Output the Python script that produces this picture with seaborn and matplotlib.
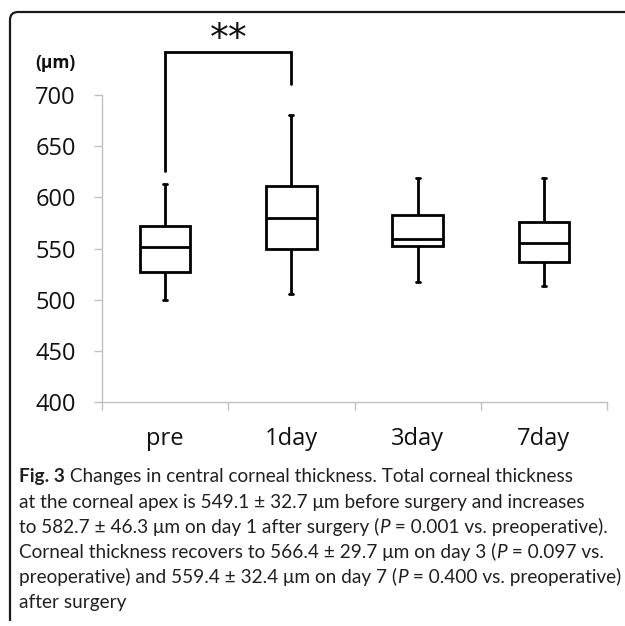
import numpy as np
import pandas as pd
import matplotlib
matplotlib.use("Agg")
import matplotlib.pyplot as plt
import seaborn as sns
from matplotlib.path import Path
from matplotlib.patches import PathPatch

# ---- data (five-number summaries) ----
groups = ["pre", "1day", "3day", "7day"]
pre_vals = [500, 527, 551, 572, 613]
day1_vals = [506, 550, 580, 611, 680]
day3_vals = [517, 552, 559, 583, 619]
day7_vals = [513, 537, 555, 576, 619]
y_ticks = [400, 450, 500, 550, 600, 650, 700]
unit_label = "(μm)"
sig_label = "**"
sig_pair = ["pre", "1day"]
sig_levels = [626, 742, 711]   # left end, top, right end

caption_lines = [
    [("Fig. 3", "bold"), (" Changes in central corneal thickness. Total corneal thickness", "normal")],
    [("at the corneal apex is 549.1 ± 32.7 μm before surgery and increases", "normal")],
    [("to 582.7 ± 46.3 μm on day 1 after surgery (", "normal"), ("P", "italic"),
     (" = 0.001 vs. preoperative).", "normal")],
    [("Corneal thickness recovers to 566.4 ± 29.7 μm on day 3 (", "normal"), ("P", "italic"),
     (" = 0.097 vs.", "normal")],
    [("preoperative) and 559.4 ± 32.4 μm on day 7 (", "normal"), ("P", "italic"),
     (" = 0.400 vs. preoperative)", "normal")],
    [("after surgery", "normal")],
]

df = pd.DataFrame({
    "time": np.repeat(groups, 5),
    "thickness": pre_vals + day1_vals + day3_vals + day7_vals,
})

sns.set_style("ticks")
plt.rcParams["font.family"] = ["Open Sans", "DejaVu Sans"]

W, H = 625, 626
fig = plt.figure(figsize=(W / 100, H / 100), dpi=100)
fig.patch.set_facecolor("white")

def fx(px):
    return px / W

def fy(py):
    return 1 - py / H

ax = fig.add_axes([fx(102), fy(402), fx(607) - fx(102), fy(95) - fy(402)])

sns.boxplot(data=df, x="time", y="thickness", order=groups, whis=(0, 100),
            width=0.4, color="white", linecolor="black", linewidth=2.0,
            fliersize=0, ax=ax)

# shrink whisker caps to tiny ticks
extremes = {min(v) for v in (pre_vals, day1_vals, day3_vals, day7_vals)} | \
           {max(v) for v in (pre_vals, day1_vals, day3_vals, day7_vals)}
for ln in ax.lines:
    xd = np.asarray(ln.get_xdata(), dtype=float)
    yd = np.asarray(ln.get_ydata(), dtype=float)
    if len(xd) == 2 and yd[0] == yd[1] and yd[0] in extremes and xd[0] != xd[1]:
        c = xd.mean()
        ln.set_xdata([c - 0.016, c + 0.016])

ax.set_ylim(400, 700)
ax.set_xlim(-0.5, 3.5)
ax.set_yticks(y_ticks)
ax.set_yticklabels([str(t) for t in y_ticks])
ax.set_xlabel("")
ax.set_ylabel("")
ax.set_facecolor("white")
for s in ["top", "right"]:
    ax.spines[s].set_visible(False)
for s in ["left", "bottom"]:
    ax.spines[s].set_color("#c0c0c0")
    ax.spines[s].set_linewidth(1.0)

ax.tick_params(axis="y", length=5.8, width=1.0, color="#c0c0c0", pad=13,
               labelsize=17, labelcolor="#111111")
ax.tick_params(axis="x", which="major", length=0, pad=18, labelsize=17,
               labelcolor="#111111")
ax.set_xticks([-0.5, 0.5, 1.5, 2.5, 3.5], minor=True)
ax.tick_params(axis="x", which="minor", length=5.8, width=1.0, color="#c0c0c0",
               direction="out")

# significance bracket
x0 = groups.index(sig_pair[0])
x1 = groups.index(sig_pair[1])
ax.plot([x0, x0, x1, x1], [sig_levels[0], sig_levels[1], sig_levels[1], sig_levels[2]],
        color="black", lw=2.0, clip_on=False, solid_joinstyle="miter")
ax.text((x0 + x1) / 2, 754, sig_label, ha="center", va="center", fontsize=27,
        family=["DejaVu Sans"], color="#111111", clip_on=False)

# unit label
fig.text(fx(76), fy(63), unit_label, ha="right", va="center", fontsize=12.5,
         fontweight="bold", color="#111111")

# frame with rounded top-left corner
r = 8
verts = [(fx(10), fy(621)), (fx(10), fy(12 + r)), (fx(10), fy(12)), (fx(10 + r), fy(12)),
         (fx(640), fy(12))]
codes = [Path.MOVETO, Path.LINETO, Path.CURVE3, Path.CURVE3, Path.LINETO]
fig.add_artist(PathPatch(Path(verts, codes), transform=fig.transFigure, fill=False,
                         lw=1.6, edgecolor="#1a1a1a", clip_on=False))

# caption
cap_family = ["Lato", "DejaVu Sans"]
renderer = fig.canvas.get_renderer()


def seg_style(style, size):
    kw = dict(fontsize=size, family=cap_family, color="#231f20",
              va="baseline", ha="left")
    if style == "bold":
        kw["fontweight"] = "bold"
    elif style == "italic":
        kw["fontstyle"] = "italic"
    return kw


def line_width(segs, size):
    total = 0
    for text, style in segs:
        t = fig.text(0, 0, text, **seg_style(style, size))
        total += t.get_window_extent(renderer).width
        t.remove()
    return total


widest = max(line_width(segs, 12) for segs in caption_lines)
cap_size = 12 * 598 / widest

baselines = [482, 508, 533, 558, 583, 608]
x_start = 19
for segs, base in zip(caption_lines, baselines):
    xpos = x_start
    for text, style in segs:
        t = fig.text(fx(xpos), fy(base), text, **seg_style(style, cap_size))
        xpos += t.get_window_extent(renderer).width

fig.savefig("out.png", dpi=100, facecolor="white")
